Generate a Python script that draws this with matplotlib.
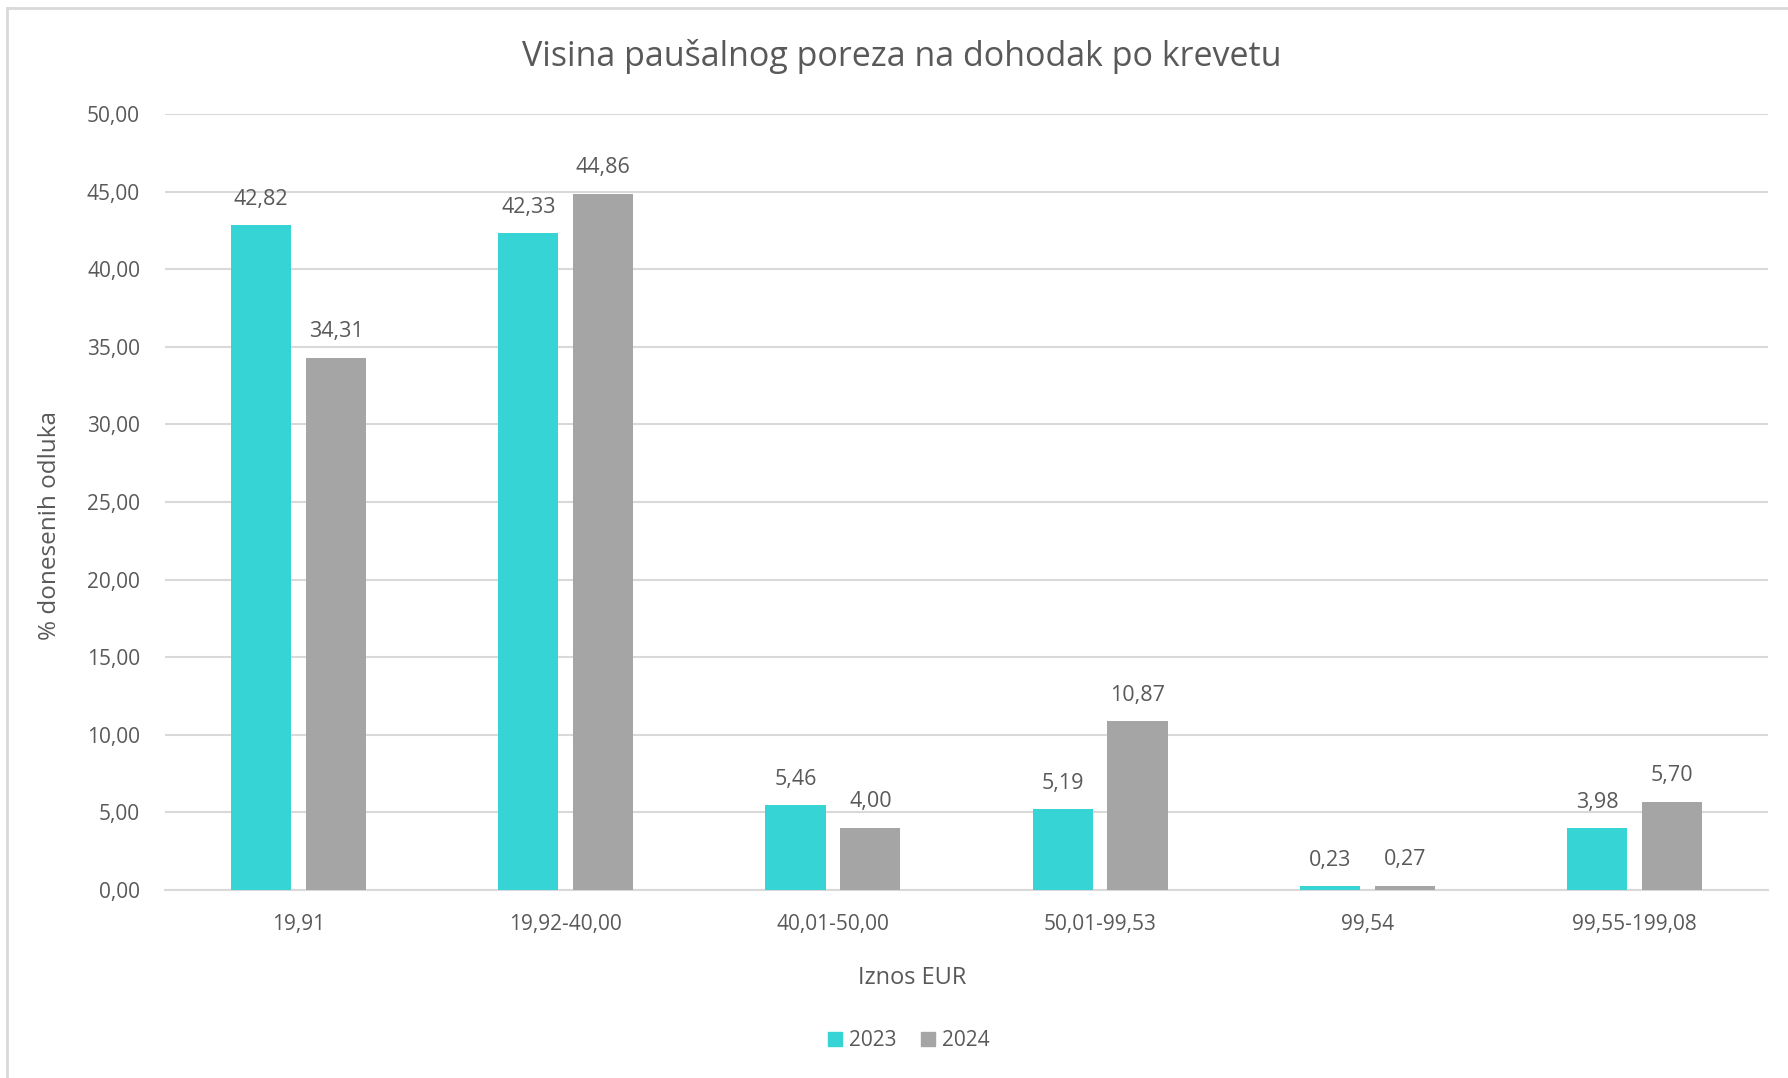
import matplotlib
matplotlib.use("Agg")
import matplotlib.pyplot as plt
import numpy as np
from matplotlib.patches import Rectangle
from matplotlib.lines import Line2D

plt.rcParams['font.family'] = ['Open Sans', 'DejaVu Sans']

categories = ["19,91", "19,92-40,00", "40,01-50,00", "50,01-99,53", "99,54", "99,55-199,08"]
series_names = ["2023", "2024"]
values_2023 = [42.82, 42.33, 5.46, 5.19, 0.23, 3.98]
values_2024 = [34.31, 44.86, 4.00, 10.87, 0.27, 5.70]
yticks = [0, 5, 10, 15, 20, 25, 30, 35, 40, 45, 50]

title = "Visina paušalnog poreza na dohodak po krevetu"
xlabel = "Iznos EUR"
ylabel = "% donesenih odluka"

C1 = "#36D4D5"
C2 = "#A5A5A5"
TXT = "#595959"
GRID = "#D9D9D9"

W, H = 1788, 1078
fig = plt.figure(figsize=(W / 100, H / 100), dpi=100)
fig.patch.set_facecolor("white")

# outer frame (left and top visible)
fig.add_artist(Line2D([7 / W, 7 / W], [0, 1 - 8 / H], color=GRID, lw=2, transform=fig.transFigure))
fig.add_artist(Line2D([7 / W, 1], [1 - 8 / H, 1 - 8 / H], color=GRID, lw=2, transform=fig.transFigure))

left, right, top, bottom = 165, 1768, 114, 890
ax = fig.add_axes([left / W, 1 - bottom / H, (right - left) / W, (bottom - top) / H])

x = np.arange(len(categories))
bw = 0.225
off = 0.14
b1 = ax.bar(x - off, values_2023, width=bw, color=C1, zorder=3)
b2 = ax.bar(x + off, values_2024, width=bw, color=C2, zorder=3)

def fmt(v):
    return f"{v:.2f}".replace(".", ",")

for bars, vals in ((b1, values_2023), (b2, values_2024)):
    for rect, v in zip(bars, vals):
        ax.annotate(fmt(v), (rect.get_x() + rect.get_width() / 2, v),
                    xytext=(0, 26), textcoords="offset pixels",
                    ha="center", va="center", fontsize=15.5, color=TXT)

ax.set_xlim(-0.5, len(categories) - 0.5)
ax.set_ylim(0, 50)
ax.set_yticks(yticks)
ax.set_yticklabels([fmt(v) for v in yticks])
ax.set_xticks(x)
ax.set_xticklabels(categories)
ax.tick_params(axis="both", length=0, labelsize=15, colors=TXT)
ax.tick_params(axis="y", pad=18)
ax.tick_params(axis="x", pad=17)
ax.yaxis.grid(True, color=GRID, lw=1.5, zorder=0)
ax.set_axisbelow(True)
for s in ["left", "right", "top"]:
    ax.spines[s].set_visible(False)
ax.spines["bottom"].set_color(GRID)
ax.spines["bottom"].set_linewidth(1.5)

fig.text(902 / W, 1 - 57 / H, title, ha="center", va="center", fontsize=24.5, color=TXT)
fig.text(912 / W, 1 - 978 / H, xlabel, ha="center", va="center", fontsize=17, color=TXT)
fig.text(50 / W, 1 - 525 / H, ylabel, ha="center", va="center", rotation=90, fontsize=17.5, color=TXT)

handles = [Rectangle((0, 0), 1, 1, color=C1), Rectangle((0, 0), 1, 1, color=C2)]
fig.legend(handles, series_names, loc="center", bbox_to_anchor=(909 / W, 1 - 1041 / H),
           ncol=2, frameon=False, fontsize=15, labelcolor=TXT,
           handlelength=0.65, handleheight=0.65, handletextpad=0.35, columnspacing=1.2)

fig.savefig("out.png", dpi=100)
